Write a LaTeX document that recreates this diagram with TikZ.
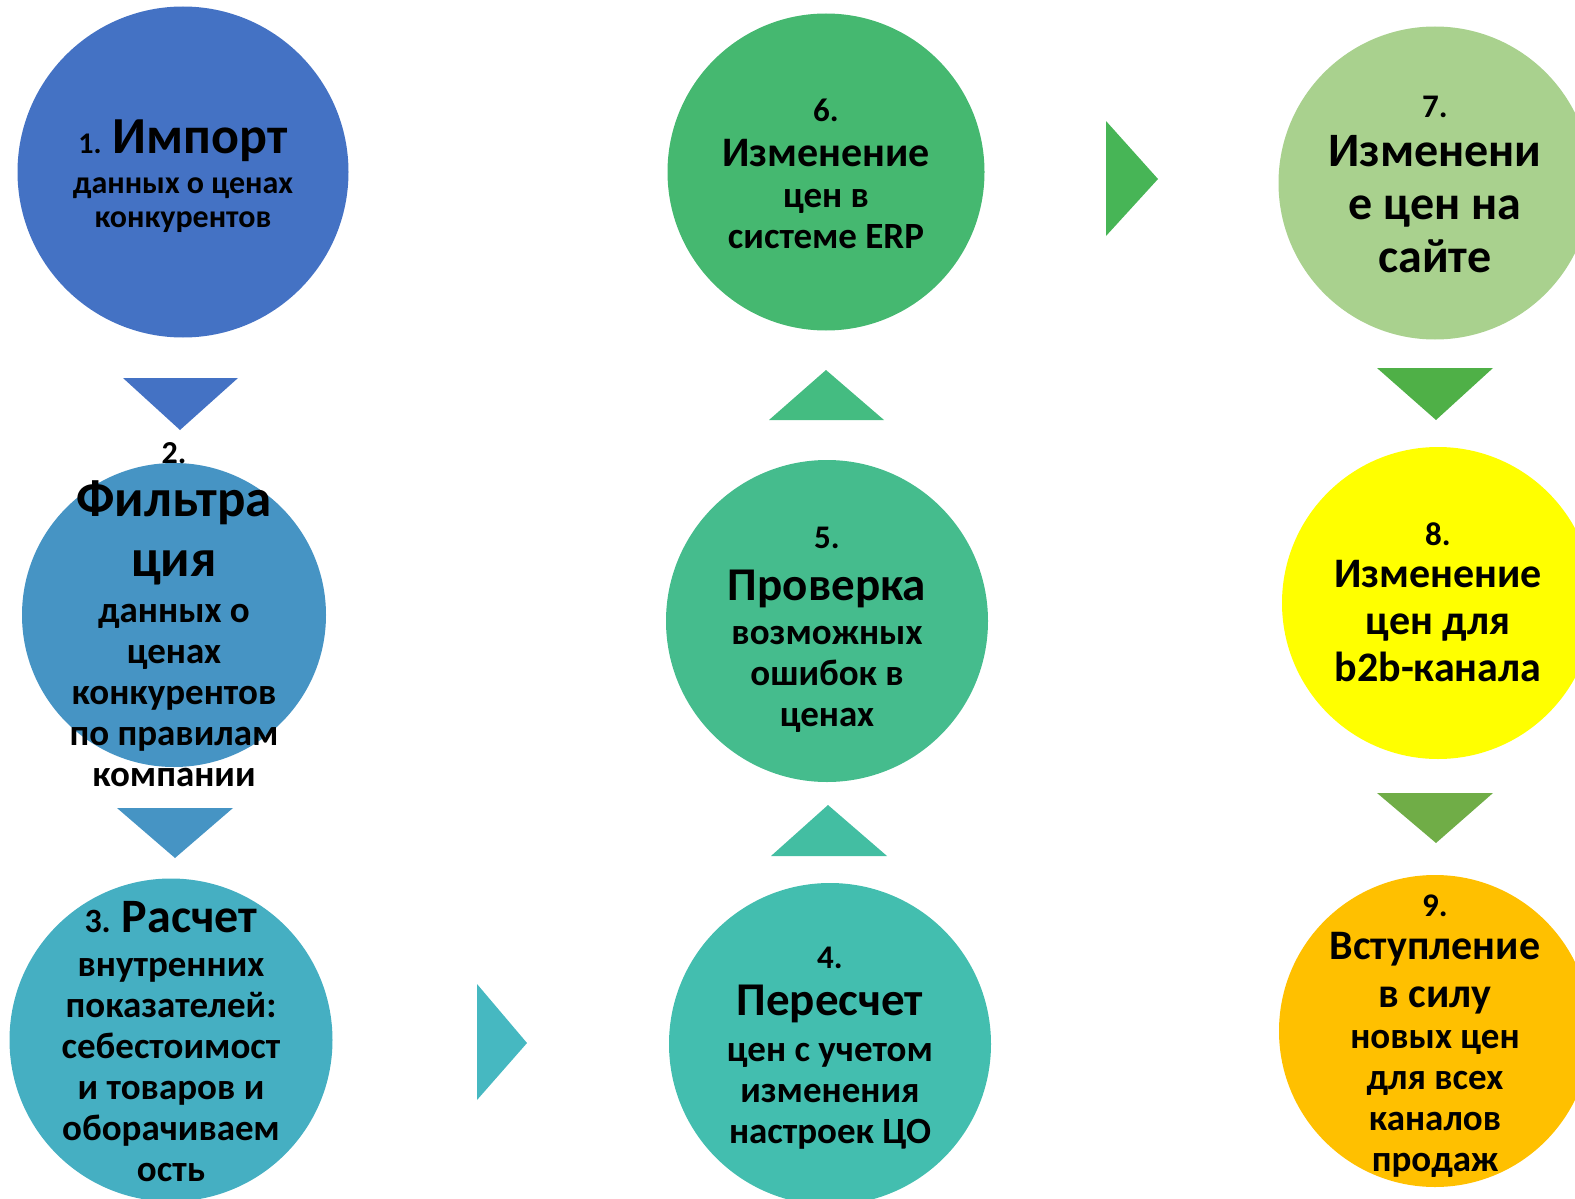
\documentclass[tikz,border=0pt]{standalone}
\usepackage{fontspec}
\setmainfont{Carlito}
\usetikzlibrary{positioning}

\definecolor{stepA}{HTML}{4472C4}
\definecolor{stepB}{HTML}{4694C4}
\definecolor{stepC}{HTML}{45AFC2}
\definecolor{arrC}{HTML}{46B8C1}
\definecolor{stepD}{HTML}{43BEAF}
\definecolor{arrD}{HTML}{43BEA2}
\definecolor{stepE}{HTML}{45BC8D}
\definecolor{arrE}{HTML}{44BC81}
\definecolor{stepF}{HTML}{45B870}
\definecolor{arrF}{HTML}{47B556}
\definecolor{stepG}{HTML}{A9D18E}
\definecolor{arrG}{HTML}{4FB047}
\definecolor{stepH}{HTML}{FFFF00}
\definecolor{arrH}{HTML}{70AD47}
\definecolor{stepI}{HTML}{FFC000}

\newcommand{\fsz}[1]{\fontsize{#1}{41}\selectfont}

\tikzset{
  stepdisc/.style={circle, inner sep=0pt, minimum size=#1},
  steptext/.style={align=center, inner sep=0pt,
    font=\bfseries\fontsize{37}{41}\selectfont},
}

\begin{document}
\begin{tikzpicture}[x=1pt, y=-1pt]
		\useasboundingbox (0,0) rectangle (1575,1199);
		\clip (0,0) rectangle (1575,1199);

		% discs
		\node[stepdisc=331, fill=stepA] (s1) at (183,172) {};
		\node[stepdisc=304, fill=stepB] (s2) at (174,615) {};
		\node[stepdisc=323, fill=stepC] (s3) at (171,1040) {};
		\node[stepdisc=322, fill=stepD] (s4) at (830,1044) {};
		\node[stepdisc=322, fill=stepE] (s5) at (827,621) {};
		\node[stepdisc=317, fill=stepF] (s6) at (826,172) {};
		\node[stepdisc=313, fill=stepG] (s7) at (1435,183) {};
		\node[stepdisc=312, fill=stepH] (s8) at (1438,603) {};
		\node[stepdisc=312, fill=stepI] (s9) at (1435,1031) {};

		% arrow heads
		\fill[stepA] (123,378) -- (238,378) -- (180,430) -- cycle;
		\fill[stepB] (117,808) -- (233,808) -- (175,858) -- cycle;
		\fill[arrC] (477,984) -- (527,1043) -- (477,1100) -- cycle;
		\fill[arrD] (771,856) -- (887,856) -- (828,805) -- cycle;
		\fill[arrE] (769,420) -- (884,420) -- (826,370) -- cycle;
		\fill[arrF] (1106,121) -- (1158,179) -- (1106,236) -- cycle;
		\fill[arrG] (1377,368) -- (1493,368) -- (1436,420) -- cycle;
		\fill[arrH] (1377,793) -- (1493,793) -- (1436,843) -- cycle;

		% texts
		\node[steptext, yshift=-4pt] (t1) at (s1) {{\fsz{30}1.} {\fsz{52}Импорт}\\[-1pt]
			{\fsz{32}данных о ценах}\\[-7pt] {\fsz{32}конкурентов}};
		\node[steptext] (t2) at (s2) {{\fsz{32}2.}\\[12pt] {\fsz{53}Фильтра}\\[19pt]
			{\fsz{53}ция}\\[5pt] данных о\\ ценах\\ конкурентов\\ по правилам\\ компании};
		\node[steptext, yshift=-2pt] (t3) at (s3) {{\fsz{34}3.} {\fsz{48}Расчет}\\[3pt] внутренних\\
			показателей:\\ себестоимост\\ и товаров и\\ оборачиваем\\ ость};
		\node[steptext, yshift=-4pt] (t4) at (s4) {{\fsz{33}4.}\\[6pt] {\fsz{47}Пересчет}\\[5pt]
			цен с учетом\\ изменения\\ настроек ЦО};
		\node[steptext, yshift=-9pt] (t5) at (s5) {{\fsz{33}5.}\\[11pt] {\fsz{47}Проверка}\\[3pt]
			возможных\\ ошибок в\\ ценах};
		\node[steptext, yshift=-2pt] (t6) at (s6) {{\fsz{33}6.}\\[4pt] {\fsz{42}Изменение}\\[0pt]
			цен в\\ системе ERP};
		\node[steptext, yshift=-1pt] (t7) at (s7) {{\fsz{33}7.}\\[8pt] {\fsz{48}Изменени}\\[12pt]
			{\fsz{48}е цен на}\\[12pt] {\fsz{48}сайте}};
		\node[steptext, yshift=1pt] (t8) at (s8) {{\fsz{33}8.}\\[1pt] {\fsz{42}Изменение}\\[6pt]
			{\fsz{42}цен для}\\[6pt] {\fsz{42}b2b-канала}};
		\node[steptext, yshift=-5pt] (t9) at (s9) {{\fsz{33}9.}\\[2pt] {\fsz{42}Вступление}\\[7pt]
			{\fsz{42}в силу}\\[0pt] новых цен\\ для всех\\ каналов\\ продаж};
	\end{tikzpicture}
\end{document}
